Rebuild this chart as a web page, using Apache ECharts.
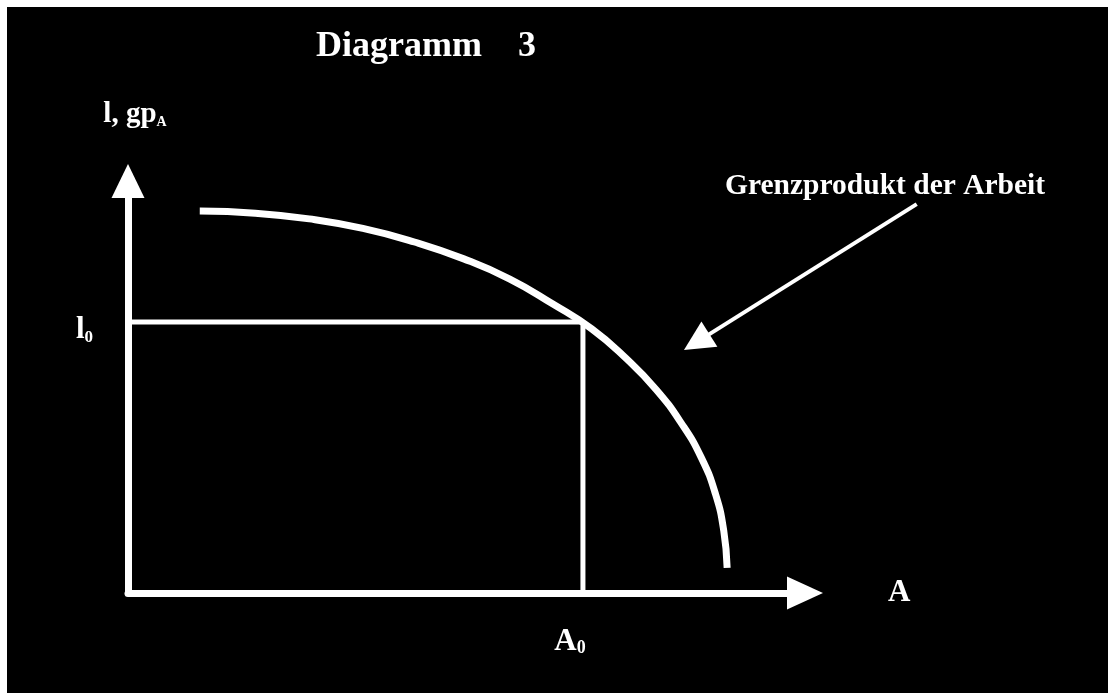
<!DOCTYPE html>
<html>
<head>
<meta charset="utf-8">
<title>Diagramm 3</title>
<script src="https://cdn.jsdelivr.net/npm/echarts@6/dist/echarts.min.js"></script>
<style>
html,body{margin:0;padding:0;background:#fff;}
#main{position:absolute;left:7px;top:7px;width:1101px;height:686px;background:#000;}
</style>
</head>
<body>
<div id="main"></div>
<script>
// Grenzprodukt der Arbeit (beide Achsen 0..100)
var curveX = [10.6, 18.8, 26.8, 34.7, 42.3, 49.6, 56.4, 62.7, 68.5, 73.6, 78.0, 81.7, 84.7, 86.8, 88.0, 88.5];
var curveY = [92.7, 92.2, 90.8, 88.5, 85.2, 81.1, 76.2, 70.2, 64.1, 56.9, 49.4, 41.3, 32.8, 23.9, 15.1, 6.1];

// Punkt (A0, l0) auf der Kurve
var valueA0 = 67.2;
var valueL0 = 65.8;

// Hinweispfeil zur Kurve
var pointerFrom = [116.5, 94.4];
var pointerTo = [84.0, 60.9];

var xTickLabel = 'A';
var yTickLabel = 'l';
var xAxisName = 'A';
var yAxisName = 'l, gp';
var curveName = 'Grenzprodukt der Arbeit';

var FONT = 'Liberation Serif';
var WHITE = '#FFFFFF';

var curveData = curveX.map(function(x, i){
	return [x, curveY[i]];
});

var myChart = echarts.init(document.getElementById('main'));
myChart.setOption({
	backgroundColor: '#000000',
	animation: false,
	title: [
		{
			text: 'Diagramm    3',
			left: 309,
			top: 22,
			padding: 0,
			textStyle: {
				color: WHITE,
				fontFamily: FONT,
				fontWeight: 'bold',
				fontSize: 36
			}
		},
		{
			text: curveName,
			left: 718,
			top: 164,
			padding: 0,
			textStyle: {
				color: WHITE,
				fontFamily: FONT,
				fontWeight: 'bold',
				fontSize: 29.5
			}
		}
	],
	grid: {
		left: 121,
		right: 303,
		top: 174,
		bottom: 100
	},
	xAxis: {
		type: 'value',
		min: 0,
		max: 100,
		name: xAxisName,
		nameLocation: 'end',
		nameGap: 83,
		nameTextStyle: {
			color: WHITE,
			fontFamily: FONT,
			fontWeight: 'bold',
			fontSize: 31
		},
		axisLine: {
			show: true,
			symbol: ['none', 'triangle'],
			symbolSize: [33, 36],
			lineStyle: { color: WHITE, width: 7 }
		},
		axisTick: { show: false },
		splitLine: { show: false },
		axisLabel: {
			show: true,
			customValues: [valueA0],
			margin: 28,
			padding: [0, 26, 0, 0],
			formatter: function(){ return '{b|' + xTickLabel + '}{s|0}'; },
			rich: {
				b: { color: WHITE, fontFamily: FONT, fontWeight: 'bold', fontSize: 31, lineHeight: 36, verticalAlign: 'bottom' },
				s: { color: WHITE, fontFamily: FONT, fontWeight: 'bold', fontSize: 18, lineHeight: 20, verticalAlign: 'bottom' }
			}
		}
	},
	yAxis: {
		type: 'value',
		min: 0,
		max: 100,
		name: '{b|' + yAxisName + '}{s|A}',
		nameLocation: 'end',
		nameGap: 52,
		nameTextStyle: {
			align: 'center',
			verticalAlign: 'bottom',
			padding: [0, 0, 0, 14],
			rich: {
				b: { color: WHITE, fontFamily: FONT, fontWeight: 'bold', fontSize: 29, lineHeight: 34, verticalAlign: 'bottom' },
				s: { color: WHITE, fontFamily: FONT, fontWeight: 'bold', fontSize: 14, lineHeight: 25, verticalAlign: 'bottom' }
			}
		},
		axisLine: {
			show: true,
			symbol: ['none', 'triangle'],
			symbolSize: [33, 34],
			lineStyle: { color: WHITE, width: 7 }
		},
		axisTick: { show: false },
		splitLine: { show: false },
		axisLabel: {
			show: true,
			customValues: [valueL0],
			margin: 35,
			padding: [12, 0, 0, 0],
			formatter: function(){ return '{b|' + yTickLabel + '}{s|0}'; },
			rich: {
				b: { color: WHITE, fontFamily: FONT, fontWeight: 'bold', fontSize: 31, lineHeight: 36, verticalAlign: 'bottom' },
				s: { color: WHITE, fontFamily: FONT, fontWeight: 'bold', fontSize: 17, lineHeight: 20, verticalAlign: 'bottom' }
			}
		}
	},
	series: [
		{
			name: 'Hilfslinien',
			type: 'line',
			data: [[0, valueL0], [valueA0, valueL0], [valueA0, 0]],
			showSymbol: false,
			lineStyle: { color: WHITE, width: 5 },
			z: 2
		},
		{
			name: curveName,
			type: 'line',
			data: curveData,
			smooth: true,
			showSymbol: false,
			lineStyle: { color: WHITE, width: 7, cap: 'butt' },
			z: 3
		},
		{
			name: 'Pfeil',
			type: 'lines',
			coordinateSystem: 'cartesian2d',
			clip: false,
			symbol: ['none', 'triangle'],
			symbolSize: 30,
			lineStyle: { color: WHITE, width: 4, opacity: 1 },
			data: [{ coords: [pointerFrom, pointerTo] }]
		}
	]
});
</script>
</body>
</html>
